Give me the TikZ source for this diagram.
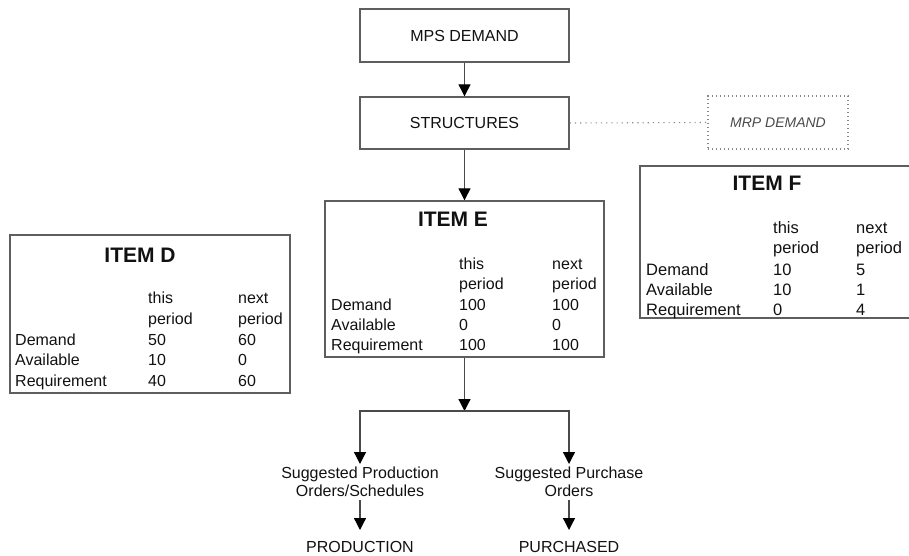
\documentclass[tikz,border=0pt]{standalone}
\usepackage{fontspec}
\setmainfont{Liberation Sans}
\usetikzlibrary{arrows.meta}
\definecolor{boxgray}{HTML}{5E5E5E}
\definecolor{linegray}{HTML}{4A4A4A}
\definecolor{dotgray}{HTML}{8A8A8A}
\definecolor{txt}{HTML}{111111}
\begin{document}
\begin{tikzpicture}[x=1pt,y=-1pt,
  box/.style={draw=boxgray,line width=1.4pt,rectangle,inner sep=0pt,text=txt,font=\fontsize{16}{18}\selectfont},
  dotbox/.style={draw=dotgray,line width=1.1pt,dash pattern=on 1.2pt off 2.8pt,rectangle,inner sep=0pt,
    font=\fontsize{14}{16}\selectfont\itshape,text=linegray},
  cell/.style={anchor=base west,inner sep=0pt,text=txt,font=\fontsize{16}{18}\selectfont},
  cellF/.style={anchor=base west,inner sep=0pt,text=txt,font=\fontsize{16.5}{18}\selectfont},
  ttl/.style={anchor=base,inner sep=0pt,text=txt,font=\fontsize{21}{24}\selectfont\bfseries},
  lbl/.style={align=center,inner xsep=0pt,inner ysep=3pt,text=txt,font=\fontsize{16}{18}\selectfont},
  arr/.style={draw=linegray,line width=1.3pt,-{Triangle[width=12pt,length=12pt,color=black]}},
  dotline/.style={draw=dotgray,line width=1.1pt,dash pattern=on 1.2pt off 4pt}]
\useasboundingbox (0,0) rectangle (909,556);

% top boxes
\node[box,minimum width=209pt,minimum height=53pt] (mps) at (464.5,35.5) {MPS DEMAND};
\node[box,minimum width=209pt,minimum height=52pt] (str) at (464.5,123) {STRUCTURES};
\node[dotbox,minimum width=140pt,minimum height=53pt] (mrp) at (778,122.5) {MRP DEMAND};

% item boxes
\node[box,minimum width=279pt,minimum height=156pt] (itemE) at (464.5,279) {};
\node[box,minimum width=280pt,minimum height=158pt] (itemD) at (150,314) {};
\node[box,minimum width=274pt,minimum height=152pt] (itemF) at (777,242) {};

% ITEM E table
\node[ttl] (tE) at (453,226) {ITEM E};
\node[cell] (eh1) at (459,269) {this};
\node[cell] (eh2) at (552,269) {next};
\node[cell] (eh3) at (459,289) {period};
\node[cell] (eh4) at (552,289) {period};
\node[cell] (er1) at (331,310) {Demand};
\node[cell] (er1a) at (459,310) {100};
\node[cell] (er1b) at (552,310) {100};
\node[cell] (er2) at (331,330) {Available};
\node[cell] (er2a) at (459,330) {0};
\node[cell] (er2b) at (552,330) {0};
\node[cell] (er3) at (331,350) {Requirement};
\node[cell] (er3a) at (459,350) {100};
\node[cell] (er3b) at (552,350) {100};

% ITEM D table
\node[ttl] (tD) at (140,262) {ITEM D};
\node[cell] (dh1) at (148,303) {this};
\node[cell] (dh2) at (238,303) {next};
\node[cell] (dh3) at (148,324) {period};
\node[cell] (dh4) at (238,324) {period};
\node[cell] (dr1) at (15,345) {Demand};
\node[cell] (dr1a) at (148,345) {50};
\node[cell] (dr1b) at (238,345) {60};
\node[cell] (dr2) at (15,365.5) {Available};
\node[cell] (dr2a) at (148,365.5) {10};
\node[cell] (dr2b) at (238,365.5) {0};
\node[cell] (dr3) at (15,386) {Requirement};
\node[cell] (dr3a) at (148,386) {40};
\node[cell] (dr3b) at (238,386) {60};

% ITEM F table
\node[ttl] (tF) at (767,190) {ITEM F};
\node[cellF] (fh1) at (773,233) {this};
\node[cellF] (fh2) at (856,233) {next};
\node[cellF] (fh3) at (773,253) {period};
\node[cellF] (fh4) at (856,253) {period};
\node[cellF] (fr1) at (646,275) {Demand};
\node[cellF] (fr1a) at (773,275) {10};
\node[cellF] (fr1b) at (856,275) {5};
\node[cellF] (fr2) at (646,295) {Available};
\node[cellF] (fr2a) at (773,295) {10};
\node[cellF] (fr2b) at (856,295) {1};
\node[cellF] (fr3) at (646,315) {Requirement};
\node[cellF] (fr3a) at (773,315) {0};
\node[cellF] (fr3b) at (856,315) {4};

% bottom labels
\node[lbl,anchor=north] (prod) at (360,464) {Suggested Production\\Orders/Schedules};
\node[lbl,anchor=north] (purch) at (569,464) {Suggested Purchase\\Orders};
\node[lbl,anchor=north,inner ysep=0pt] (production) at (360,541) {PRODUCTION};
\node[lbl,anchor=north,inner ysep=0pt] (purchased) at (569,541) {PURCHASED};

\coordinate (j) at (464.5,411);

% connectors
\draw[arr] (mps) -- (str);
\draw[arr] (str) -- (itemE);
\draw[dotline] (str.east) -- (mrp.west);
\draw[arr] (itemE.south) -- (j);
\draw[arr] (j) -| (prod.north);
\draw[arr] (j) -| (purch.north);
\draw[arr,shorten >=11pt] (prod.south) -- (production.north);
\draw[arr,shorten >=11pt] (purch.south) -- (purchased.north);
\end{tikzpicture}
\end{document}
